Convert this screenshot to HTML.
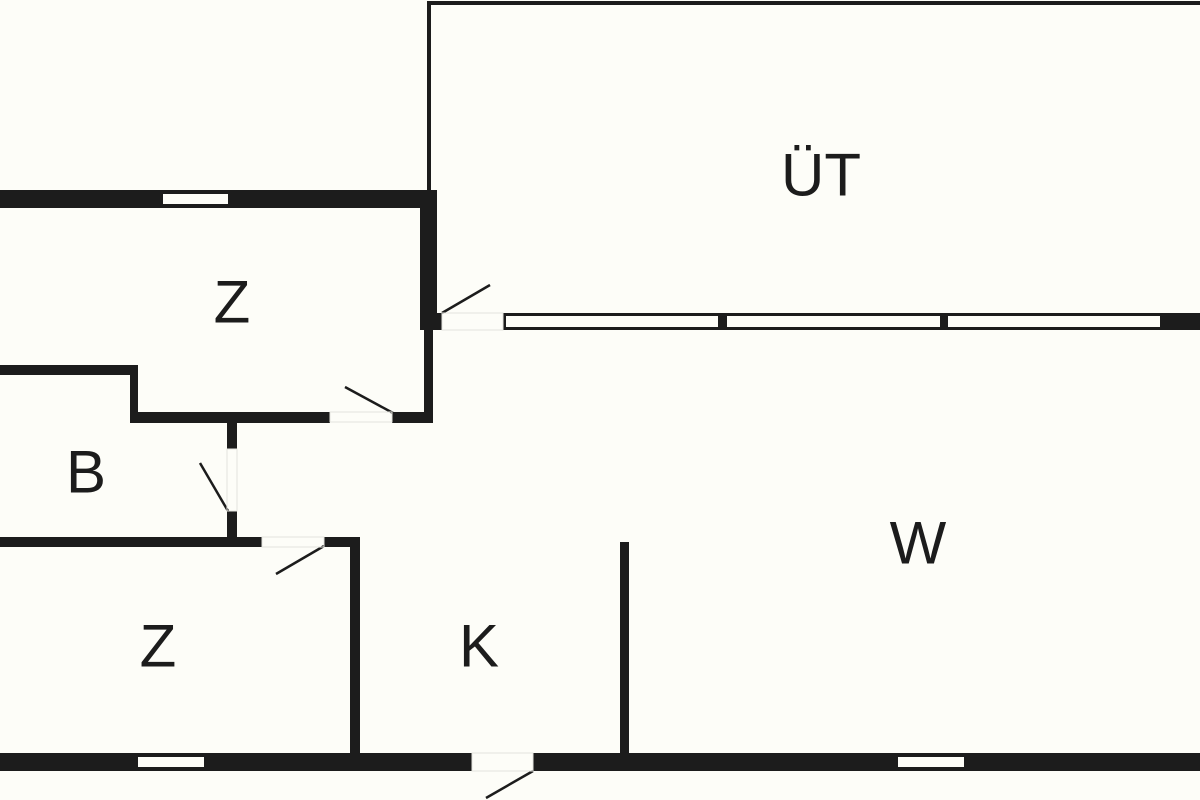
<!DOCTYPE html>
<html><head><meta charset="utf-8"><style>
html,body{margin:0;padding:0;background:#fdfdf8;}
svg{display:block}
text{font-family:"Liberation Sans",sans-serif;font-size:60px;fill:#1c1c1c;text-anchor:middle;dominant-baseline:central}
</style></head><body>
<svg width="1200" height="800" viewBox="0 0 1200 800">
<rect width="1200" height="800" fill="#fdfdf8"/>
<g fill="#1c1c1c">
<!-- UT outline -->
<rect x="427" y="1" width="773" height="4"/>
<rect x="427" y="1" width="4" height="190"/>
<!-- top wall Z -->
<rect x="0" y="190" width="437" height="18"/>
<rect x="420" y="190" width="17" height="140"/>
<rect x="420" y="313" width="22" height="17"/>
<rect x="424" y="330" width="9" height="92"/>
<rect x="392" y="412" width="41" height="11"/>
<rect x="130" y="412" width="200" height="11"/>
<rect x="0" y="365" width="138" height="10"/>
<rect x="130" y="365" width="8" height="57"/>
<rect x="227" y="422" width="10" height="27"/>
<rect x="227" y="511" width="10" height="34"/>
<rect x="0" y="537" width="262" height="10"/>
<rect x="324" y="537" width="36" height="10"/>
<rect x="350" y="537" width="10" height="218"/>
<rect x="620" y="542" width="9" height="213"/>
<!-- window strip -->
<rect x="503" y="313" width="697" height="17"/>
<!-- bottom wall -->
<rect x="0" y="753" width="472" height="18"/>
<rect x="533" y="753" width="667" height="18"/>
</g>
<g fill="#fdfdf8">
<rect x="163" y="194" width="65" height="10"/>
<rect x="506" y="316" width="212" height="11"/>
<rect x="727" y="316" width="213" height="11"/>
<rect x="948" y="316" width="212" height="11"/>
<rect x="138" y="757" width="66" height="10"/>
<rect x="898" y="757" width="66" height="10"/>
</g>
<g stroke="#1c1c1c" stroke-width="2.5">
<line x1="442" y1="313" x2="490" y2="285"/>
<line x1="345" y1="387" x2="393" y2="413"/>
<line x1="200" y1="463" x2="228" y2="511"/>
<line x1="276" y1="574" x2="324" y2="546"/>
<line x1="486" y1="798" x2="533" y2="771"/>
</g>
<g stroke="#e4e4de" stroke-width="1" fill="none">
<rect x="442" y="313" width="61" height="17"/>
<rect x="330" y="412" width="62" height="10"/>
<rect x="227" y="449" width="10" height="62"/>
<rect x="262" y="537" width="62" height="10"/>
<rect x="472" y="753" width="61" height="18"/>
</g>
<text x="821" y="175">ÜT</text>
<text x="232" y="302">Z</text>
<text x="86" y="472">B</text>
<text x="158" y="646">Z</text>
<text x="479" y="646">K</text>
<text x="918" y="543">W</text>
</svg>
</body></html>
